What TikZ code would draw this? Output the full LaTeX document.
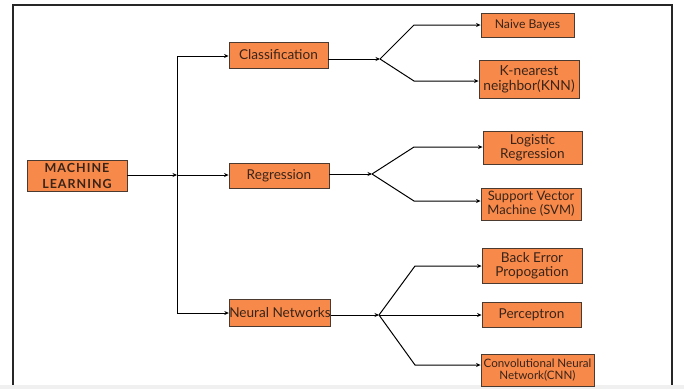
\documentclass[tikz,border=0pt]{standalone}
\usepackage{fontspec}
\setmainfont{Lato}
\usetikzlibrary{arrows.meta}
\definecolor{boxorange}{HTML}{F7894A}
\definecolor{boxedge}{HTML}{4A3A30}
\definecolor{inktext}{HTML}{3A2418}

\begin{document}
\begin{tikzpicture}[x=1pt,y=-1pt,
    box/.style={draw=boxedge,fill=boxorange,text=inktext,line width=0.9pt,
      inner sep=0pt,align=center,font=\fontsize{13.6}{14}\selectfont},
    link/.style={line width=1pt,-{Stealth[length=4.5pt,width=4pt]}},
    wire/.style={line width=1pt}]
  \useasboundingbox (0,0) rectangle (684,389);
  % Frame and bottom strip
  \draw[line width=1.3pt,black!85] (13,5) rectangle (672,386);
  \fill[gray!12] (0,385) rectangle (684,389);

  % Root and the three families
  \node[box,minimum width=100pt,minimum height=31pt,
    font=\fontsize{12.5}{16}\selectfont\bfseries\addfontfeatures{LetterSpace=8}]
    (ml) at (77,175.5) {MACHINE\\LEARNING};
  \node[box,minimum width=99pt,minimum height=26pt] (cls) at (278.5,55) {Classification};
  \node[box,minimum width=100pt,minimum height=25pt] (reg) at (279,175.5) {Regression};
  \node[box,minimum width=100pt,minimum height=27pt] (nn) at (280,312.5) {Neural Networks};

  % Leaves
  \node[box,minimum width=93pt,minimum height=24pt,font=\fontsize{12.2}{14}\selectfont] (nb) at (527.5,25) {Naive Bayes};
  \node[box,minimum width=100pt,minimum height=38pt,font=\fontsize{13.8}{15}\selectfont] (knn) at (529,79) {K-nearest\\neighbor(KNN)};
  \node[box,minimum width=99pt,minimum height=33pt] (lr) at (532.5,147.5) {Logistic\\Regression};
  \node[box,minimum width=100pt,minimum height=32pt,font=\fontsize{13}{14}\selectfont] (svm) at (531,204) {Support Vector\\Machine (SVM)};
  \node[box,minimum width=100pt,minimum height=35pt] (bep) at (532,265.5) {Back Error\\Propogation};
  \node[box,minimum width=99pt,minimum height=25pt] (per) at (531.5,314.5) {Perceptron};
  \node[box,minimum width=113pt,minimum height=32pt,font=\fontsize{11.6}{12.5}\selectfont] (cnn) at (537.5,370) {Convolutional Neural\\Network(CNN)};

  % Trunk
  \coordinate (tt) at (177,56);
  \coordinate (tm) at (177,175);
  \coordinate (tb) at (177,313);
  \draw[wire] (tt) -- (tb);
  \draw[link] (ml.east |- tm) -- (tm);
  \draw[link] (tt) -- (tt -| cls.west);
  \draw[link] (tm) -- (tm -| reg.west);
  \draw[link] (tb) -- (tb -| nn.west);

  % Forks
  \coordinate (f1) at (380,59);
  \coordinate (f2) at (372,174);
  \coordinate (f3) at (379,315);
  \draw[link] (f1 -| cls.east) -- (f1);
  \draw[link] (f1) -- (414,25) -- (nb.west |- 414,25);
  \draw[link] (f1) -- (414,81) -- (knn.west |- 414,81);
  \draw[link] (f2 -| reg.east) -- (f2);
  \draw[link] (f2) -- (414,147) -- (lr.west |- 414,147);
  \draw[link] (f2) -- (414,201) -- (svm.west |- 414,201);
  \draw[link] (f3 -| nn.east) -- (f3);
  \draw[link] (f3) -- (415,266) -- (bep.west |- 415,266);
  \draw[link] (f3) -- (per.west |- f3);
  \draw[link] (f3) -- (415,365) -- (cnn.west |- 415,365);
\end{tikzpicture}
\end{document}
